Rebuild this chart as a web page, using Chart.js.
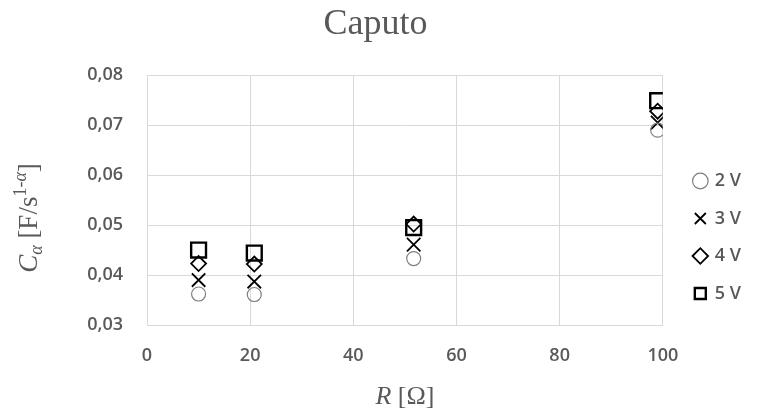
<!DOCTYPE html>
<html lang="en">
<head>
    <meta charset="UTF-8">
    <title>Caputo</title>
    <script src="https://cdn.jsdelivr.net/npm/chart.js"></script>
    <style>
        body {
            margin: 0;
            background: #ffffff;
        }
        #wrap {
            width: 773px;
            height: 411px;
        }
    </style>
</head>
<body>
    <div id="wrap">
        <canvas id="caputoChart" width="773" height="411"></canvas>
    </div>

    <script>
        // resistance values (x) and C_alpha per voltage
        const resistance = [10, 20.8, 51.7, 99];
        const series2V = [0.0362, 0.0361, 0.0433, 0.0690];
        const series3V = [0.0390, 0.0387, 0.0461, 0.0705];
        const series4V = [0.0423, 0.0422, 0.0502, 0.0728];
        const series5V = [0.0450, 0.0444, 0.0495, 0.0749];
        const seriesLabels = ['2 V', '3 V', '4 V', '5 V'];

        const xTicks = [0, 20, 40, 60, 80, 100];
        const yTicks = [0.03, 0.04, 0.05, 0.06, 0.07, 0.08];

        const gray = '#595959';
        const gridColor = '#d9d9d9';
        const tickFont = { family: '"Open Sans", sans-serif', size: 18, weight: 600 };

        function toPoints(values) {
            return resistance.map((r, i) => ({ x: r, y: values[i] }));
        }

        // axis titles have italics, sub- and superscripts, so draw them by hand
        const axisTitles = {
            id: 'axisTitles',
            afterDraw(chart) {
                const ctx = chart.ctx;
                const area = chart.chartArea;
                const serif = '"Liberation Serif", "Times New Roman", serif';
                ctx.save();
                ctx.fillStyle = gray;
                ctx.textBaseline = 'alphabetic';
                ctx.textAlign = 'left';

                // y title: C_α [F/s^(1-α)]
                const parts = [
                    { t: 'C', f: 'italic 27px ' + serif, dy: 0 },
                    { t: 'α', f: 'italic 18px ' + serif, dy: 5 },
                    { t: ' [F/s', f: '27px ' + serif, dy: 0 },
                    { t: '1-', f: '18px ' + serif, dy: -11 },
                    { t: 'α', f: 'italic 18px ' + serif, dy: -11 },
                    { t: ']', f: '27px ' + serif, dy: 0 }
                ];
                let total = 0;
                parts.forEach(p => {
                    ctx.font = p.f;
                    p.w = ctx.measureText(p.t).width;
                    total += p.w;
                });
                ctx.translate(37, 218);
                ctx.rotate(-Math.PI / 2);
                let x = -total / 2;
                parts.forEach(p => {
                    ctx.font = p.f;
                    ctx.fillText(p.t, x, p.dy);
                    x += p.w;
                });
                ctx.setTransform(1, 0, 0, 1, 0, 0);

                // x title: R [Ω]
                const xParts = [
                    { t: 'R', f: 'italic 26px ' + serif },
                    { t: ' [Ω]', f: '26px ' + serif }
                ];
                let xw = 0;
                xParts.forEach(p => {
                    ctx.font = p.f;
                    p.w = ctx.measureText(p.t).width;
                    xw += p.w;
                });
                let cx = (area.left + area.right) / 2 - xw / 2;
                xParts.forEach(p => {
                    ctx.font = p.f;
                    ctx.fillText(p.t, cx, 404);
                    cx += p.w;
                });
                ctx.restore();
            }
        };

        new Chart(document.getElementById('caputoChart'), {
            type: 'scatter',
            data: {
                datasets: [
                    {
                        label: seriesLabels[0],
                        data: toPoints(series2V),
                        pointStyle: 'circle',
                        pointRadius: 7,
                        pointHoverRadius: 7,
                        borderWidth: 1.2,
                        borderColor: '#7f7f7f',
                        backgroundColor: 'rgba(0,0,0,0)'
                    },
                    {
                        label: seriesLabels[1],
                        data: toPoints(series3V),
                        pointStyle: 'crossRot',
                        pointRadius: 9.5,
                        pointHoverRadius: 9.5,
                        borderWidth: 1.8,
                        borderColor: '#000000',
                        backgroundColor: 'rgba(0,0,0,0)'
                    },
                    {
                        label: seriesLabels[2],
                        data: toPoints(series4V),
                        pointStyle: 'rectRot',
                        pointRadius: 7.5,
                        pointHoverRadius: 7.5,
                        borderWidth: 1.8,
                        borderColor: '#000000',
                        backgroundColor: 'rgba(0,0,0,0)'
                    },
                    {
                        label: seriesLabels[3],
                        data: toPoints(series5V),
                        pointStyle: 'rect',
                        pointRadius: 10.5,
                        pointHoverRadius: 10.5,
                        borderWidth: 2.4,
                        borderColor: '#000000',
                        backgroundColor: 'rgba(0,0,0,0)'
                    }
                ]
            },
            options: {
                responsive: false,
                animation: false,
                layout: {
                    padding: { left: 0, right: 22, top: 0, bottom: 0 }
                },
                plugins: {
                    title: {
                        display: true,
                        text: 'Caputo',
                        color: gray,
                        font: { family: '"Liberation Serif", serif', size: 36, weight: 'normal' },
                        padding: { top: 3, bottom: 29 }
                    },
                    legend: {
                        position: 'right',
                        title: {
                            display: true,
                            text: '',
                            font: { size: 1, lineHeight: 1 },
                            padding: { top: 62.5, bottom: 0 }
                        },
                        labels: {
                            usePointStyle: true,
                            boxWidth: 11,
                            boxHeight: 11,
                            padding: 19.5,
                            color: gray,
                            font: tickFont
                        }
                    },
                    tooltip: { enabled: false }
                },
                scales: {
                    x: {
                        type: 'linear',
                        min: xTicks[0],
                        max: xTicks[xTicks.length - 1],
                        afterBuildTicks(scale) {
                            scale.ticks = xTicks.map(v => ({ value: v }));
                        },
                        afterFit(scale) {
                            scale.height = 86;
                        },
                        grid: { color: gridColor, lineWidth: 1, drawTicks: false },
                        border: { color: gridColor, width: 1 },
                        ticks: {
                            color: gray,
                            font: tickFont,
                            padding: 20,
                            maxRotation: 0,
                            callback: v => String(v)
                        }
                    },
                    y: {
                        type: 'linear',
                        min: yTicks[0],
                        max: yTicks[yTicks.length - 1],
                        afterBuildTicks(scale) {
                            scale.ticks = yTicks.map(v => ({ value: v }));
                        },
                        afterFit(scale) {
                            scale.width = 147;
                        },
                        grid: { color: gridColor, lineWidth: 1, drawTicks: false },
                        border: { color: gridColor, width: 1 },
                        ticks: {
                            color: gray,
                            font: tickFont,
                            padding: 24,
                            callback: v => v.toFixed(2).replace('.', ',')
                        }
                    },
                    // empty spacer between plot and legend
                    gap: {
                        type: 'linear',
                        position: 'right',
                        afterFit(scale) {
                            scale.width = 12.5;
                        },
                        grid: { display: false },
                        border: { display: false },
                        ticks: { display: false }
                    }
                }
            },
            plugins: [axisTitles]
        });
    </script>
</body>
</html>
